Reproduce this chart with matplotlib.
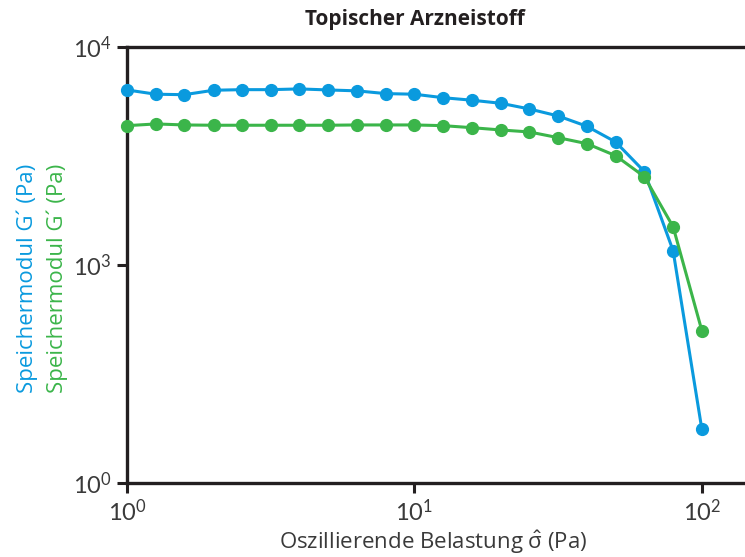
import matplotlib
matplotlib.use("Agg")
import matplotlib.pyplot as plt
import numpy as np

plt.rcParams['font.family'] = ['Lato', 'DejaVu Sans']
plt.rcParams['mathtext.default'] = 'regular'

# oscillation stress (Pa), 10 points per decade
stress = [1.0, 1.26, 1.58, 2.0, 2.51, 3.16, 3.98, 5.01, 6.31, 7.94,
          10.0, 12.6, 15.8, 20.0, 25.1, 31.6, 39.8, 50.1, 63.1, 79.4, 100.0]

# storage modulus, first and second sample (Pa)
g_blue = [6350, 6070, 6040, 6330, 6370, 6370, 6420, 6350, 6290, 6110,
          6070, 5850, 5700, 5515, 5195, 4825, 4327, 3666, 2680, 1163, 176]
g_green = [4355, 4435, 4388, 4374, 4374, 4374, 4374, 4374, 4388, 4388,
           4388, 4355, 4264, 4161, 4075, 3837, 3601, 3172, 2541, 1498, 499]

ytick_vals = [100, 1000, 10000]
ytick_labels = ['$10^0$', '$10^3$', '$10^4$']
xtick_vals = [1, 10, 100]
xtick_labels = ['$10^0$', '$10^1$', '$10^2$']

BLUE = '#0a9ade'
GREEN = '#3bb54a'
DARK = '#231f20'
LABEL_FONT = ['Open Sans', 'DejaVu Sans']

fig = plt.figure(figsize=(7.45, 5.57), dpi=100)
ax = fig.add_axes([0.1705, 0.1329, 0.8295, 0.7828])

ax.plot(stress, g_blue, color=BLUE, lw=2.2, marker='o', ms=8.5, clip_on=False, zorder=3)
ax.plot(stress, g_green, color=GREEN, lw=2.2, marker='o', ms=8.5, clip_on=False, zorder=4)

ax.set_xscale('log')
ax.set_yscale('log')
ax.set_xlim(1, 10 ** 2.15)
ax.set_ylim(100, 10000)

ax.set_xticks(xtick_vals)
ax.set_xticklabels(xtick_labels)
ax.set_yticks(ytick_vals)
ax.set_yticklabels(ytick_labels)
ax.minorticks_off()
ax.tick_params(axis='both', length=7, width=2.2, color=DARK, labelsize=17,
               labelcolor='#3a3a3a', pad=4)

for side in ['left', 'top', 'bottom']:
    ax.spines[side].set_linewidth(2.4)
    ax.spines[side].set_color(DARK)
ax.spines['right'].set_visible(False)

# x label placed on its baseline in figure coords so it stays inside the canvas
fig.text(0.582, 0.014, r'Oszillierende Belastung $\hat{\sigma}$ (Pa)', fontsize=16,
         family=LABEL_FONT, color='#3a3a3a', ha='center', va='baseline')

fig.text(0.036, 0.50, 'Speichermodul G\u00b4 (Pa)', rotation=90, color=BLUE,
         fontsize=16, family=LABEL_FONT, ha='center', va='center')
fig.text(0.077, 0.50, 'Speichermodul G\u00b4 (Pa)', rotation=90, color=GREEN,
         fontsize=16, family=LABEL_FONT, ha='center', va='center')

fig.text(0.557, 0.965, 'Topischer Arzneistoff', fontsize=15, fontweight='bold',
         family=LABEL_FONT, color=DARK, ha='center', va='center')

fig.savefig('out.png', dpi=100)
